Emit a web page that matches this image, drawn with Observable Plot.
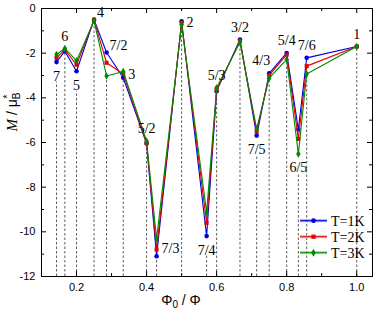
<!DOCTYPE html>
<html><head><meta charset="utf-8">
<script src="https://cdn.jsdelivr.net/npm/d3@7"></script>
<script src="https://cdn.jsdelivr.net/npm/@observablehq/plot@0.6"></script>
<style>body{margin:0;background:#fff}</style>
</head><body><div id="chart"></div>
<script>
// Flux ratio labels (Φ/Φ0) and their positions on the Φ0/Φ axis
const ratioLabels = ["7","6","5","4","7/2","3","5/2","7/3","2","7/4","5/3","3/2","7/5","4/3","5/4","6/5","7/6","1"];
const phiRatio = [1/7, 1/6, 1/5, 1/4, 2/7, 1/3, 2/5, 3/7, 1/2, 4/7, 3/5, 2/3, 5/7, 3/4, 4/5, 5/6, 6/7, 1];
// Magnetization M/μB* at three temperatures
const m1K = [-2.40,-1.91,-2.81,-0.50,-1.97,-3.10,-6.05,-11.09,-0.57,-10.19,-3.70,-1.39,-5.69,-2.90,-1.99,-5.42,-2.21,-1.70];
const m2K = [-2.21,-1.85,-2.52,-0.52,-2.43,-2.93,-6.02,-10.79,-0.64,-9.60,-3.64,-1.45,-5.51,-2.99,-2.07,-5.84,-2.58,-1.70];
const m3K = [-2.06,-1.79,-2.34,-0.55,-3.02,-2.82,-5.93,-10.31,-0.73,-9.12,-3.55,-1.51,-5.39,-3.12,-2.28,-6.51,-2.93,-1.70];
// Side of the point cluster where each ratio label sits
const labelSide = ["S","N","S","NE","NE","E","N","E","E","S","N","N","S","NW","N","S","N","N"];
const seriesNames = ["T=1K","T=2K","T=3K"];
const xTicks = [0.2, 0.4, 0.6, 0.8, 1.0];
const xMinorTicks = [0.3, 0.5, 0.7, 0.9];
const yTicks = [0, -2, -4, -6, -8, -10, -12];
const yMinorTicks = [-1, -3, -5, -7, -9, -11];

const colors = ["#0000dd", "#e60000", "#008a00"];
const halo = ["#6a6ae8", "#ee7a7a", "#70c070"];
const symbols = ["circle", "square", "diamond"];
const series = [m1K, m2K, m3K];

const W = 374, H = 313, mL = 41, mR = 2, mT = 8, mB = 37;
const xDom = [0.1, 1.045], yDom = [-12, 0];
const pxPerY = (H - mT - mB) / (yDom[1] - yDom[0]);
const pxPerX = (W - mL - mR) / (xDom[1] - xDom[0]);

const idx = phiRatio.map((_, i) => i);
const hi = i => Math.max(m1K[i], m2K[i], m3K[i]);
const lo = i => Math.min(m1K[i], m2K[i], m3K[i]);
const mid = i => (m1K[i] + m2K[i] + m3K[i]) / 3;
const ruleTop = i => labelSide[i] === "S" ? lo(i) - 20 / pxPerY : lo(i);

const rows = series.flatMap((s, k) => s.map((v, i) => ({x: phiRatio[i], y: v, k})));

const serif = "Liberation Serif, Times New Roman, serif";
const sans = "Liberation Sans, Arial, sans-serif";

const labelMark = (side, yFn, opts) => Plot.text(idx.filter(i => labelSide[i] === side), {
  x: i => phiRatio[i], y: yFn, text: i => ratioLabels[i],
  fontFamily: serif, fontSize: 14, lineAnchor: "middle", fill: "#000", ...opts
});

const tickLen = 5, minorLen = 3;
const marks = [
  // dashed guides
  Plot.ruleX(idx, {x: i => phiRatio[i], y1: -12, y2: ruleTop, stroke: "#333", strokeWidth: 0.8, strokeDasharray: "2.5,2"}),
  // inward ticks (bottom, top, left, right)
  Plot.ruleX(xTicks, {x: d => d, y1: yDom[0], y2: yDom[0] + tickLen / pxPerY, stroke: "#000"}),
  Plot.ruleX(xMinorTicks, {x: d => d, y1: yDom[0], y2: yDom[0] + minorLen / pxPerY, stroke: "#000"}),
  Plot.ruleX(xTicks, {x: d => d, y1: yDom[1], y2: yDom[1] - tickLen / pxPerY, stroke: "#000"}),
  Plot.ruleX(xMinorTicks, {x: d => d, y1: yDom[1], y2: yDom[1] - minorLen / pxPerY, stroke: "#000"}),
  Plot.ruleY(yTicks, {y: d => d, x1: xDom[0], x2: xDom[0] + tickLen / pxPerX, stroke: "#000"}),
  Plot.ruleY(yMinorTicks, {y: d => d, x1: xDom[0], x2: xDom[0] + minorLen / pxPerX, stroke: "#000"}),
  Plot.ruleY(yTicks, {y: d => d, x1: xDom[1], x2: xDom[1] - tickLen / pxPerX, stroke: "#000"}),
  Plot.ruleY(yMinorTicks, {y: d => d, x1: xDom[1], x2: xDom[1] - minorLen / pxPerX, stroke: "#000"}),
  Plot.axisX({ticks: xTicks, tickSize: 0, tickPadding: 7, tickFormat: d3.format(".1f"), label: null, fontSize: 11, fontFamily: sans}),
  Plot.axisY({ticks: yTicks, tickSize: 0, tickPadding: 6, tickFormat: d => String(d), label: null, fontSize: 11, fontFamily: sans}),
];
series.forEach((s, k) => {
  const data = rows.filter(r => r.k === k);
  marks.push(Plot.line(data, {x: "x", y: "y", stroke: colors[k], strokeWidth: 1.1}));
  marks.push(Plot.dot(data, {x: "x", y: "y", symbol: () => symbols[k], fill: colors[k], stroke: "none", r: 2.3}));
});
marks.push(
  labelMark("N", hi, {dy: -12}),
  labelMark("S", lo, {dy: 14}),
  labelMark("E", mid, {dx: 5, textAnchor: "start"}),
  labelMark("NE", hi, {dx: 3, dy: -7, textAnchor: "start"}),
  labelMark("NW", hi, {dx: 1, dy: -13, textAnchor: "end"}),
  Plot.frame({stroke: "#000", strokeWidth: 1})
);

const plot = Plot.plot({
  width: W, height: H, marginLeft: mL, marginRight: mR, marginTop: mT, marginBottom: mB,
  x: {domain: xDom}, y: {domain: yDom},
  style: {fontFamily: sans, background: "#fff", overflow: "visible"},
  marks
});

const svg = d3.select(plot);
// y-axis title
const yt = svg.append("text").attr("transform", "translate(17,112) rotate(-90)")
  .attr("text-anchor", "middle").attr("font-family", sans).attr("font-size", 14).attr("fill", "#000");
yt.append("tspan").attr("font-style", "italic").attr("font-family", serif).attr("font-size", 15).text("M");
yt.append("tspan").text(" / μ");
yt.append("tspan").attr("font-size", 10).attr("dy", 3).text("B");
yt.append("tspan").attr("font-size", 10).attr("dy", -9).attr("dx", -6).text("*");
// x-axis title
const xt = svg.append("text").attr("x", 181).attr("y", 305).attr("text-anchor", "middle")
  .attr("font-family", sans).attr("font-size", 14).attr("fill", "#000");
xt.append("tspan").text("Φ");
xt.append("tspan").attr("font-size", 10).attr("dy", 3).text("0");
xt.append("tspan").attr("dy", -3).text(" / Φ");
// legend
const lg = svg.append("g");
seriesNames.forEach((name, k) => {
  const y = 220.7 + k * 16;
  lg.append("line").attr("x1", 300).attr("x2", 327).attr("y1", y).attr("y2", y)
    .attr("stroke", halo[k]).attr("stroke-width", 3).attr("opacity", 0.6);
  lg.append("line").attr("x1", 300).attr("x2", 327).attr("y1", y).attr("y2", y)
    .attr("stroke", colors[k]).attr("stroke-width", 1);
  lg.append("path").attr("transform", `translate(313.5,${y})`)
    .attr("d", d3.symbol(k === 0 ? d3.symbolCircle : k === 1 ? d3.symbolSquare : d3.symbolDiamond, 18)())
    .attr("fill", colors[k]);
  lg.append("text").attr("x", 331).attr("y", y).attr("dy", "0.35em").attr("text-anchor", "start")
    .attr("font-family", serif).attr("font-size", 14).attr("fill", "#000").text(name);
});
document.getElementById("chart").appendChild(plot);
</script>
</body></html>
